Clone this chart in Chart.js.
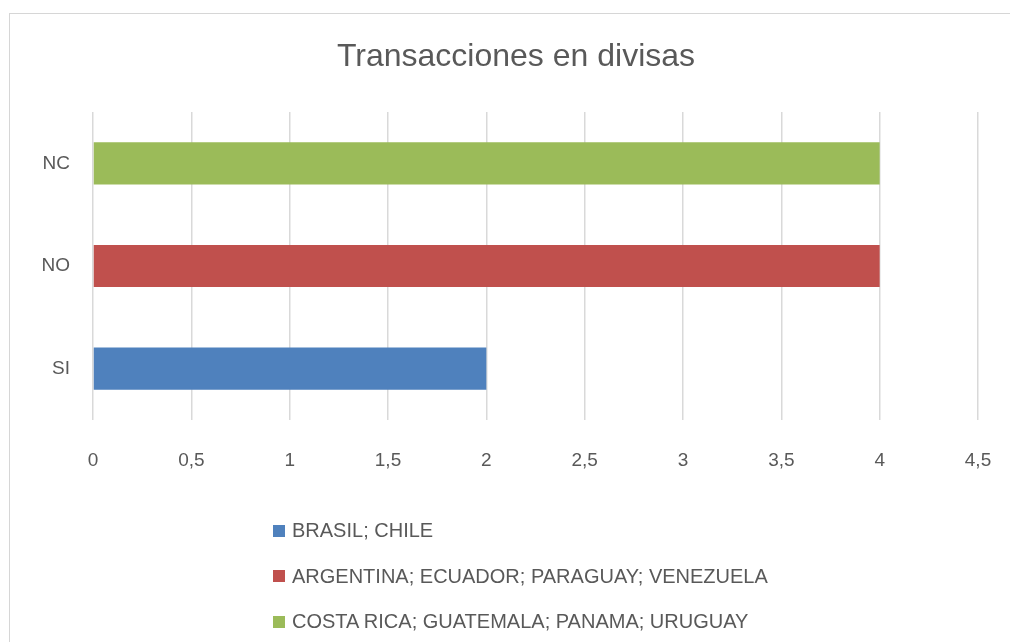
<!DOCTYPE html>
<html>
<head>
<meta charset="utf-8">
<script src="https://cdn.jsdelivr.net/npm/chart.js@4"></script>
<style>
  body { margin: 0; background: #fff; }
  #wrap { position: relative; width: 1010px; height: 642px; overflow: hidden; }
  #frame { position: absolute; left: 9px; top: 13px; width: 1100px; height: 700px; border: 1px solid #d6d6d6; }
  #chart { position: absolute; left: 0; top: 0; }
  #legend { position: absolute; left: 273px; top: 508px; font-family: "Liberation Sans", Arial, sans-serif; font-size: 20px; color: #595959; }
  .item { height: 45.5px; display: flex; align-items: center; }
  .item .box { width: 12px; height: 12px; margin-right: 7px; }
</style>
</head>
<body>
<div id="wrap">
  <div id="frame"></div>
  <canvas id="chart" width="1010" height="642"></canvas>
  <div id="legend"></div>
</div>
<script>
const categories = ['SI', 'NO', 'NC'];
const seriesNames = [
    'BRASIL; CHILE',
    'ARGENTINA; ECUADOR; PARAGUAY; VENEZUELA',
    'COSTA RICA; GUATEMALA; PANAMA; URUGUAY'
];
const brasilChile = [2, null, null];
const argentinaGroup = [null, 4, null];
const costaRicaGroup = [null, null, 4];
const seriesColors = ['#4F81BD', '#C0504D', '#9BBB59'];
const xTicks = [0, 0.5, 1, 1.5, 2, 2.5, 3, 3.5, 4, 4.5];

const textColor = '#595959';
const fontFamily = '"Liberation Sans", Arial, sans-serif';

const seriesData = [brasilChile, argentinaGroup, costaRicaGroup];
const datasets = seriesData.map(function(data, i){
    return {
        label: seriesNames[i],
        data: data,
        backgroundColor: seriesColors[i],
        barPercentage: 0.41,
        categoryPercentage: 1
    };
});

new Chart(document.getElementById('chart'), {
    type: 'bar',
    data: {
        labels: categories,
        datasets: datasets
    },
    options: {
        indexAxis: 'y',
        responsive: false,
        animation: false,
        layout: { padding: { left: 22, right: 0, top: 0, bottom: 0 } },
        plugins: {
            legend: { display: false },
            tooltip: { enabled: false },
            title: {
                display: true,
                text: 'Transacciones en divisas',
                color: textColor,
                font: { family: fontFamily, size: 32, weight: 'normal', lineHeight: 1.2 },
                padding: { top: 38, bottom: 35.6 }
            }
        },
        scales: {
            x: {
                stacked: true,
                min: 0,
                max: 4.5,
                afterBuildTicks: function(scale){
                    scale.ticks = xTicks.map(function(v){ return { value: v }; });
                },
                afterFit: function(scale){
                    scale.height = 222;
                    scale.paddingRight = 32;
                },
                grid: { color: '#d9d9d9', lineWidth: 1.5, drawTicks: false },
                border: { display: false },
                ticks: {
                    color: textColor,
                    padding: 29,
                    font: { family: fontFamily, size: 19 },
                    callback: function(v){ return String(v).replace('.', ','); }
                }
            },
            y: {
                stacked: true,
                reverse: true,
                afterFit: function(scale){ scale.width = 71; },
                grid: { display: false, drawTicks: false },
                border: { display: false },
                ticks: {
                    color: textColor,
                    padding: 23,
                    font: { family: fontFamily, size: 19 }
                }
            }
        }
    }
});

const legend = document.getElementById('legend');
seriesNames.forEach(function(name, i){
    const row = document.createElement('div');
    row.className = 'item';
    const box = document.createElement('span');
    box.className = 'box';
    box.style.background = seriesColors[i];
    const label = document.createElement('span');
    label.textContent = name;
    row.appendChild(box);
    row.appendChild(label);
    legend.appendChild(row);
});
</script>
</body>
</html>
